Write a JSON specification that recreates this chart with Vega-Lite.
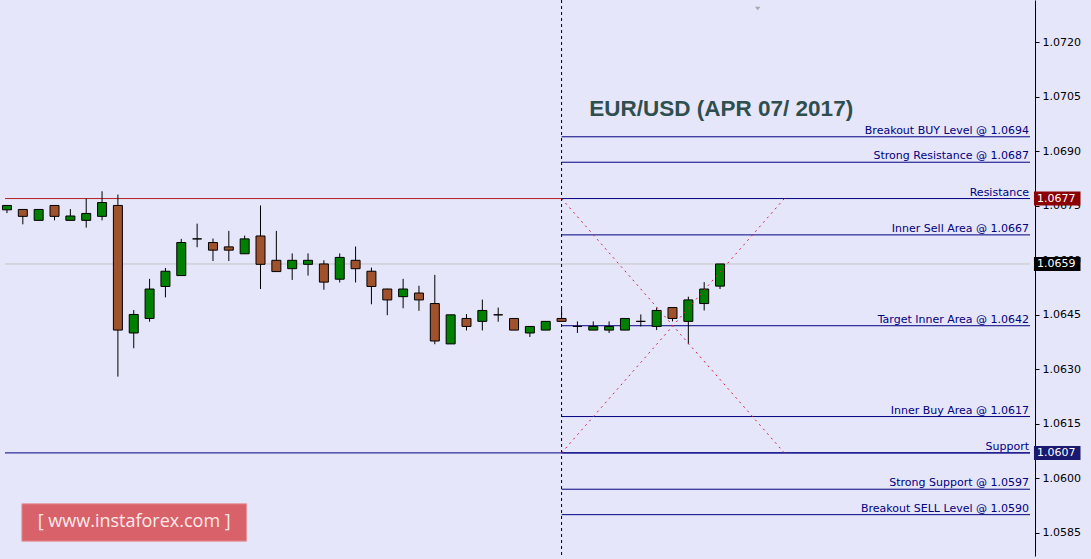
{
 "$schema": "https://vega.github.io/schema/vega-lite/v6.json",
 "width": 1035,
 "height": 556,
 "autosize": {"type": "none"},
 "padding": {"left": 0, "top": 0, "right": 56, "bottom": 3},
 "background": "#e6e6fa",
 "config": {"view": {"stroke": null, "fill": "#e6e6fa"}, "font": "DejaVu Sans"},
 "datasets": {
  "candles": [
   {"i":0,"o":1.06739,"h":1.06751,"l":1.06730,"c":1.06751},
   {"i":1,"o":1.06740,"h":1.06740,"l":1.06699,"c":1.06721},
   {"i":2,"o":1.06710,"h":1.06740,"l":1.06710,"c":1.06740},
   {"i":3,"o":1.06751,"h":1.06751,"l":1.06710,"c":1.06721},
   {"i":4,"o":1.06710,"h":1.06741,"l":1.06710,"c":1.06722},
   {"i":5,"o":1.06710,"h":1.06770,"l":1.06690,"c":1.06729},
   {"i":6,"o":1.06721,"h":1.06790,"l":1.06710,"c":1.06759},
   {"i":7,"o":1.06751,"h":1.06781,"l":1.06280,"c":1.06408},
   {"i":8,"o":1.06400,"h":1.06463,"l":1.06358,"c":1.06451},
   {"i":9,"o":1.06440,"h":1.06549,"l":1.06431,"c":1.06521},
   {"i":10,"o":1.06528,"h":1.06579,"l":1.06498,"c":1.06570},
   {"i":11,"o":1.06558,"h":1.06659,"l":1.06558,"c":1.06649},
   {"i":12,"o":1.06659,"h":1.06701,"l":1.06636,"c":1.06659},
   {"i":13,"o":1.06649,"h":1.06660,"l":1.06598,"c":1.06628},
   {"i":14,"o":1.06637,"h":1.06681,"l":1.06598,"c":1.06628},
   {"i":15,"o":1.06618,"h":1.06668,"l":1.06618,"c":1.06659},
   {"i":16,"o":1.06667,"h":1.06751,"l":1.06521,"c":1.06589},
   {"i":17,"o":1.06600,"h":1.06681,"l":1.06569,"c":1.06569},
   {"i":18,"o":1.06577,"h":1.06619,"l":1.06546,"c":1.06600},
   {"i":19,"o":1.06589,"h":1.06619,"l":1.06558,"c":1.06600},
   {"i":20,"o":1.06590,"h":1.06600,"l":1.06519,"c":1.06540},
   {"i":21,"o":1.06548,"h":1.06619,"l":1.06539,"c":1.06608},
   {"i":22,"o":1.06600,"h":1.06638,"l":1.06539,"c":1.06577},
   {"i":23,"o":1.06570,"h":1.06580,"l":1.06479,"c":1.06528},
   {"i":24,"o":1.06521,"h":1.06522,"l":1.06449,"c":1.06491},
   {"i":25,"o":1.06500,"h":1.06549,"l":1.06468,"c":1.06521},
   {"i":26,"o":1.06510,"h":1.06530,"l":1.06461,"c":1.06491},
   {"i":27,"o":1.06481,"h":1.06560,"l":1.06369,"c":1.06378},
   {"i":28,"o":1.06370,"h":1.06450,"l":1.06370,"c":1.06450},
   {"i":29,"o":1.06440,"h":1.06452,"l":1.06407,"c":1.06418},
   {"i":30,"o":1.06432,"h":1.06492,"l":1.06407,"c":1.06462},
   {"i":31,"o":1.06450,"h":1.06470,"l":1.06431,"c":1.06450},
   {"i":32,"o":1.06440,"h":1.06440,"l":1.06408,"c":1.06408},
   {"i":33,"o":1.06400,"h":1.06418,"l":1.06389,"c":1.06418},
   {"i":34,"o":1.06408,"h":1.06432,"l":1.06408,"c":1.06432},
   {"i":35,"o":1.06440,"h":1.06467,"l":1.06432,"c":1.06432},
   {"i":36,"o":1.06418,"h":1.06432,"l":1.06400,"c":1.06418},
   {"i":37,"o":1.06408,"h":1.06432,"l":1.06408,"c":1.06418},
   {"i":38,"o":1.06408,"h":1.06432,"l":1.06400,"c":1.06418},
   {"i":39,"o":1.06408,"h":1.06440,"l":1.06408,"c":1.06440},
   {"i":40,"o":1.06432,"h":1.06451,"l":1.06418,"c":1.06432},
   {"i":41,"o":1.06418,"h":1.06470,"l":1.06408,"c":1.06462},
   {"i":42,"o":1.06470,"h":1.06470,"l":1.06432,"c":1.06440},
   {"i":43,"o":1.06432,"h":1.06500,"l":1.06369,"c":1.06491},
   {"i":44,"o":1.06481,"h":1.06540,"l":1.06462,"c":1.06521},
   {"i":45,"o":1.06529,"h":1.06590,"l":1.06521,"c":1.06590}
  ],
  "levels": [
   {"v":1.0694,"label":"Breakout BUY Level @ 1.0694"},
   {"v":1.0687,"label":"Strong Resistance @  1.0687"},
   {"v":1.0677,"label":"Resistance"},
   {"v":1.0667,"label":"Inner Sell Area @ 1.0667"},
   {"v":1.0642,"label":"Target Inner Area @ 1.0642"},
   {"v":1.0617,"label":"Inner Buy Area  @ 1.0617"},
   {"v":1.0607,"label":"Support  "},
   {"v":1.0597,"label":"Strong Support  @  1.0597"},
   {"v":1.0590,"label":"Breakout SELL Level  @ 1.0590"}
  ],
  "boxes": [
   {"v":1.0677,"label":"1.0677","kind":"resistance"},
   {"v":1.0659,"label":"1.0659","kind":"price"},
   {"v":1.0607,"label":"1.0607","kind":"support"}
  ],
  "diag": [
   {"x":35,"y":1.0677,"x2":49.06,"y2":1.0607},
   {"x":35,"y":1.0607,"x2":49.06,"y2":1.0677}
  ]
 },
 "layer": [
  {
   "data": {"values": [{"v":1.0659}]},
   "mark": {"type":"rule","color":"#c4c4c4","strokeWidth":1},
   "encoding": {
    "y": {"field":"v","type":"quantitative","scale":{"domain":[1.058,1.073027],"nice":false,"zero":false},
      "axis":{"orient":"right","values":[1.0585,1.06,1.0615,1.063,1.0645,1.066,1.0675,1.069,1.0705,1.072],"format":".4f","title":null,"grid":false,"domain":true,"ticks":true,"labels":true,"domainColor":"#000000","tickColor":"#000000","tickSize":4,"labelColor":"#000000","labelFont":"DejaVu Sans","labelFontSize":11,"labelPadding":3,"labelBaseline":"middle","labelFlush":false,"labelOverlap":false}},
    "x": {"datum":-0.125,"type":"quantitative","scale":{"domain":[-0.125,64.5625],"nice":false,"zero":false},"axis":null},
    "x2": {"datum":64.5625}
   }
  },
  {
   "data": {"values": [{"v":1.0677,"from":-0.125,"to":35}]},
   "mark": {"type":"rule","color":"#b22222","strokeWidth":1},
   "encoding": {
    "y": {"field":"v","type":"quantitative"},
    "x": {"field":"from","type":"quantitative","axis":null},
    "x2": {"field":"to"}
   }
  },
  {
   "data": {"values": [{"v":1.0607}]},
   "mark": {"type":"rule","color":"#000080","strokeWidth":1},
   "encoding": {
    "y": {"field":"v","type":"quantitative"},
    "x": {"datum":-0.125,"type":"quantitative","axis":null},
    "x2": {"datum":64.5625}
   }
  },
  {
   "data": {"name":"levels"},
   "mark": {"type":"rule","color":"#000080","strokeWidth":1},
   "encoding": {
    "y": {"field":"v","type":"quantitative"},
    "x": {"datum":35,"type":"quantitative","axis":null},
    "x2": {"datum":64.5625}
   }
  },
  {
   "data": {"values": [{"i":35}]},
   "mark": {"type":"rule","color":"#000000","strokeWidth":1,"strokeDash":[3,3]},
   "encoding": {
    "x": {"field":"i","type":"quantitative","axis":null}
   }
  },
  {
   "data": {"name":"candles"},
   "mark": {"type":"rule","color":"#000000","strokeWidth":1},
   "encoding": {
    "x": {"field":"i","type":"quantitative","axis":null},
    "y": {"field":"l","type":"quantitative"},
    "y2": {"field":"h"}
   }
  },
  {
   "data": {"name":"candles"},
   "mark": {"type":"bar","orient":"vertical","width":9,"stroke":"#000000","strokeWidth":1},
   "encoding": {
    "x": {"field":"i","type":"quantitative","axis":null},
    "y": {"field":"o","type":"quantitative"},
    "y2": {"field":"c"},
    "color": {"condition":{"test":"datum.c >= datum.o","value":"#008000"},"value":"#a0522d"}
   }
  },
  {
   "data": {"name":"diag"},
   "mark": {"type":"rule","color":"#d42040","strokeWidth":1,"strokeDash":[2,4]},
   "encoding": {
    "x": {"field":"x","type":"quantitative","axis":null},
    "y": {"field":"y","type":"quantitative"},
    "x2": {"field":"x2"},
    "y2": {"field":"y2"}
   }
  },
  {
   "data": {"name":"levels"},
   "mark": {"type":"text","align":"right","baseline":"alphabetic","dy":-3,"dx":-1,"font":"DejaVu Sans","fontSize":11,"fill":"#000080"},
   "encoding": {
    "x": {"datum":64.5625,"type":"quantitative","axis":null},
    "y": {"field":"v","type":"quantitative"},
    "text": {"field":"label"}
   }
  },
  {
   "data": {"name":"boxes"},
   "mark": {"type":"bar","orient":"horizontal","height":14},
   "encoding": {
    "x": {"datum":64.8125,"type":"quantitative","axis":null},
    "x2": {"datum":67.75},
    "y": {"field":"v","type":"quantitative"},
    "color": {"field":"kind","type":"nominal","scale":{"domain":["resistance","price","support"],"range":["#8b0000","#000000","#191970"]},"legend":null}
   }
  },
  {
   "data": {"name":"boxes"},
   "mark": {"type":"text","align":"left","baseline":"middle","dx":3,"font":"DejaVu Sans","fontSize":11,"fill":"#ffffff"},
   "encoding": {
    "x": {"datum":64.8125,"type":"quantitative","axis":null},
    "y": {"field":"v","type":"quantitative"},
    "text": {"field":"label"}
   }
  },
  {
   "data": {"values": [{"t":"EUR/USD (APR 07/ 2017)","x":36.75,"y":1.06997}]},
   "mark": {"type":"text","align":"left","baseline":"alphabetic","font":"Liberation Sans","fontWeight":"bold","fontSize":22.5,"fill":"#2f4f4f"},
   "encoding": {
    "x": {"field":"x","type":"quantitative","axis":null},
    "y": {"field":"y","type":"quantitative"},
    "text": {"field":"t"}
   }
  },
  {
   "data": {"values": [{"x":0.9375,"x2":15.125,"y":1.0593,"y2":1.05827}]},
   "mark": {"type":"rect","fill":"#d9616a","stroke":"#e79ca1","strokeWidth":1},
   "encoding": {
    "x": {"field":"x","type":"quantitative","axis":null},
    "x2": {"field":"x2"},
    "y": {"field":"y","type":"quantitative"},
    "y2": {"field":"y2"}
   }
  },
  {
   "data": {"values": [{"t":"[  www.instaforex.com ]","x":8.03,"y":1.05879}]},
   "mark": {"type":"text","align":"center","baseline":"middle","font":"Open Sans","fontSize":18,"fill":"#fbeaea"},
   "encoding": {
    "x": {"field":"x","type":"quantitative","axis":null},
    "y": {"field":"y","type":"quantitative"},
    "text": {"field":"t"}
   }
  },
  {
   "data": {"values": [{"x":47.375,"y":1.07293}]},
   "mark": {"type":"point","shape":"M-0.5,-0.3L0.5,-0.3L0,0.3Z","size":121,"filled":true,"fill":"#a8a8a8","opacity":1},
   "encoding": {
    "x": {"field":"x","type":"quantitative","axis":null},
    "y": {"field":"y","type":"quantitative"}
   }
  }
 ]
}
